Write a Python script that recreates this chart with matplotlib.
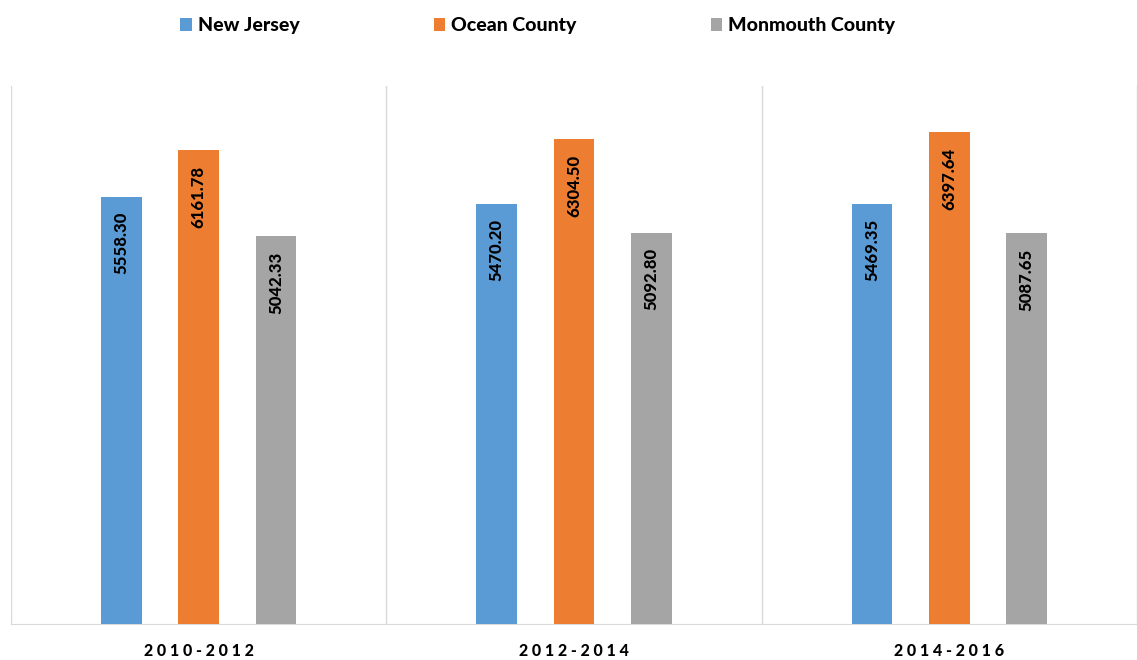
import matplotlib
matplotlib.use('Agg')
import matplotlib.pyplot as plt
import numpy as np

periods = ['2010-2012', '2012-2014', '2014-2016']
series = ['New Jersey', 'Ocean County', 'Monmouth County']
new_jersey = [5558.30, 5470.20, 5469.35]
ocean = [6161.78, 6304.50, 6397.64]
monmouth = [5042.33, 5092.80, 5087.65]
colors = ['#5b9bd5', '#ed7d31', '#a5a5a5']

plt.rcParams['font.family'] = ['Lato', 'DejaVu Sans']

fig = plt.figure(figsize=(11.37, 6.6), dpi=100)
ax = fig.add_axes([11/1137, 1-624/660, 1126/1137, (624-86)/660])

x = np.arange(len(periods))
offs = [-0.206, 0, 0.206]
w = 0.109
for vals, off, c, name in zip([new_jersey, ocean, monmouth], offs, colors, series):
    bars = ax.bar(x + off, vals, w, color=c, label=name, zorder=3)
    for b, v in zip(bars, vals):
        ax.annotate('%.2f' % v, (b.get_x() + b.get_width()/2, v),
                    xytext=(0, -11), textcoords='offset points',
                    rotation=90, ha='center', va='top',
                    fontsize=12, fontweight='black', color='black', zorder=4)

ax.set_xlim(-0.5, len(periods) - 0.5)
ax.set_ylim(0, 7000)
ax.set_yticks([])
ax.set_xticks(x)
ax.set_xticklabels([' '.join(p) for p in periods], fontsize=11.5, fontweight='black')
ax.tick_params(axis='x', length=0, pad=14)
ax.set_xticks(np.arange(len(periods) + 1) - 0.5, minor=True)
ax.tick_params(axis='x', which='minor', length=0)
ax.grid(axis='x', which='minor', color='#d9d9d9', linewidth=1)
for s in ['top', 'right', 'left']:
    ax.spines[s].set_visible(False)
ax.spines['bottom'].set_color('#d9d9d9')

leg = fig.legend(loc='upper center', bbox_to_anchor=(0.473, 1.0), ncol=3,
                 frameon=False, prop={'weight': 'black', 'size': 14},
                 handlelength=0.6, handleheight=0.6, handletextpad=0.3,
                 columnspacing=6.9)

fig.savefig('out.png', dpi=100)
